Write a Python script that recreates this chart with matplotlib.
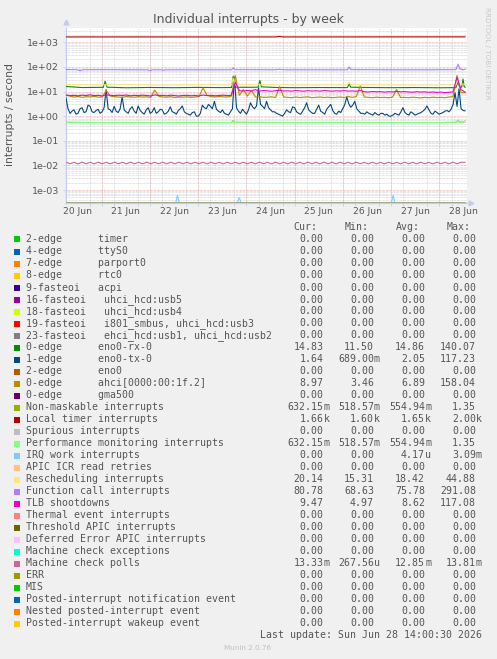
import numpy as np
import matplotlib
matplotlib.use('Agg')
import matplotlib.pyplot as plt
from matplotlib.ticker import LogLocator, FuncFormatter, NullFormatter, MultipleLocator

W, H = 497, 659

# Leyenda (orden de munin)
labels = [
    '2-edge      timer', '4-edge      ttyS0', '7-edge      parport0', '8-edge      rtc0',
    '9-fasteoi   acpi', '16-fasteoi   uhci_hcd:usb5', '18-fasteoi   uhci_hcd:usb4',
    '19-fasteoi   i801_smbus, uhci_hcd:usb3', '23-fasteoi   ehci_hcd:usb1, uhci_hcd:usb2',
    '0-edge      eno0-rx-0', '1-edge      eno0-tx-0', '2-edge      eno0',
    '0-edge      ahci[0000:00:1f.2]', '0-edge      gma500', 'Non-maskable interrupts',
    'Local timer interrupts', 'Spurious interrupts', 'Performance monitoring interrupts',
    'IRQ work interrupts', 'APIC ICR read retries', 'Rescheduling interrupts',
    'Function call interrupts', 'TLB shootdowns', 'Thermal event interrupts',
    'Threshold APIC interrupts', 'Deferred Error APIC interrupts', 'Machine check exceptions',
    'Machine check polls', 'ERR', 'MIS', 'Posted-interrupt notification event',
    'Nested posted-interrupt event', 'Posted-interrupt wakeup event',
]
colors = [
    '#00CC00', '#0066B3', '#FF8000', '#FFCC00', '#330099', '#990099', '#CCFF00', '#FF0000',
    '#808080', '#008F00', '#00487D', '#B35A00', '#B38F00', '#6B006B', '#8FB300', '#B30000',
    '#BEBEBE', '#80FF80', '#80C9FF', '#FFC080', '#FFE680', '#AA80FF', '#EE00CC', '#FF8080',
    '#666600', '#FFBFFF', '#00FFCC', '#CC6699', '#999900', '#00CC00', '#0066B3', '#FF8000',
    '#FFCC00',
]
z = '0.00'
cur_vals = [z]*9 + ['14.83', '1.64', z, '8.97', z, '632.15m', '1.66k', z, '632.15m', z, z,
                    '20.14', '80.78', '9.47', z, z, z, z, '13.33m', z, z, z, z, z]
min_vals = [z]*9 + ['11.50', '689.00m', z, '3.46', z, '518.57m', '1.60k', z, '518.57m', z, z,
                    '15.31', '68.63', '4.97', z, z, z, z, '267.56u', z, z, z, z, z]
avg_vals = [z]*9 + ['14.86', '2.05', z, '6.89', z, '554.94m', '1.65k', z, '554.94m', '4.17u', z,
                    '18.42', '75.78', '8.62', z, z, z, z, '12.85m', z, z, z, z, z]
max_vals = [z]*9 + ['140.07', '117.23', z, '158.04', z, '1.35', '2.00k', z, '1.35', '3.09m', z,
                    '44.88', '291.08', '117.08', z, z, z, z, '13.81m', z, z, z, z, z]

# Tiempo en dias desde 20 Jun 00:00
T0, T1 = 0.26, 8.53
days = ['20 Jun', '21 Jun', '22 Jun', '23 Jun', '24 Jun', '25 Jun', '26 Jun', '27 Jun', '28 Jun']

# eno0-tx-0 (rejilla de 1 hora)
tx_v = [5.5, 2.0, 1.3, 1.6, 1.8, 1.2, 1.3, 2.0, 2.2, 1.4,
        1.5, 2.8, 2.5, 1.5, 1.4, 1.7, 1.9, 1.3, 1.5, 2.2,
        12.0, 2.0, 1.8, 1.4, 2.5, 1.6, 1.4, 2.0, 6.0, 1.8,
        1.5, 1.3, 2.0, 2.4, 1.6, 1.3, 2.6, 1.7, 1.4, 1.2,
        1.8, 2.2, 1.3, 1.5, 2.2, 1.3, 1.5, 1.9, 1.8, 1.2,
        1.3, 1.6, 2.4, 1.5, 1.4, 1.2, 1.7, 2.0, 2.6, 1.5,
        1.3, 1.2, 1.1, 1.4, 1.5, 1.0, 1.0, 1.3, 2.8, 2.2,
        2.0, 3.0, 2.5, 2.0, 4.0, 1.9, 1.6, 1.4, 1.8, 1.3,
        1.2, 1.1, 1.5, 2.0, 38.0, 2.2, 1.6, 1.3, 1.9, 1.5,
        1.2, 1.8, 3.5, 2.4, 2.0, 2.6, 14.0, 3.0, 2.5, 2.0,
        4.0, 2.2, 1.8, 1.5, 1.5, 1.3, 1.2, 1.1, 1.0, 1.3,
        1.8, 1.5, 1.4, 2.4, 2.2, 1.5, 1.3, 1.2, 1.6, 2.2,
        3.5, 1.8, 1.5, 1.3, 1.3, 1.9, 2.8, 1.6, 1.4, 1.2,
        1.9, 2.4, 3.0, 1.7, 1.3, 1.2, 1.6, 1.4, 2.0, 2.9,
        6.0, 3.2, 2.3, 2.8, 4.0, 2.0, 1.6, 1.3, 1.3, 1.2,
        1.5, 1.3, 1.2, 1.1, 1.4, 1.2, 1.1, 1.3, 1.3, 1.1,
        1.2, 1.0, 1.0, 1.1, 1.3, 1.2, 1.1, 1.5, 2.2, 1.4,
        1.2, 1.1, 1.5, 1.3, 1.1, 1.2, 1.3, 1.4, 1.6, 1.9,
        2.6, 1.8, 1.3, 1.2, 1.6, 1.4, 1.2, 1.3, 1.4, 1.6,
        1.7, 1.5, 1.9, 3.0, 9.0, 2.5, 13.0, 2.0, 1.7, 1.64]
tx_t = np.linspace(T0, T1, len(tx_v))

# Resto de series (rejilla de 2 horas)
ahci_v = [7.0, 6.5, 6.0, 6.3, 5.8, 6.2, 6.0, 6.4, 5.9, 6.1,
          11.0, 6.5, 6.2, 6.0, 5.8, 6.3, 6.0, 5.9, 6.2, 6.0,
          6.1, 5.8, 11.5, 6.4, 6.0, 5.9, 6.2, 5.7, 6.0, 5.9,
          6.1, 5.8, 6.0, 6.3, 14.0, 7.0, 6.2, 6.0, 6.3, 6.1,
          6.0, 6.4, 45.0, 7.0, 12.0, 6.5, 11.0, 6.0, 6.2, 5.8,
          5.9, 6.1, 5.7, 16.0, 6.0, 5.8, 5.6, 6.0, 5.7, 5.9,
          6.1, 5.6, 5.8, 6.0, 5.7, 5.9, 5.6, 5.8, 6.0, 5.7,
          6.3, 5.8, 6.2, 17.0, 6.0, 5.8, 5.6, 5.9, 5.7, 5.8,
          5.6, 5.9, 12.0, 5.7, 5.8, 5.6, 5.9, 5.7, 5.5, 5.8,
          5.6, 5.9, 5.7, 5.8, 5.6, 6.0, 6.2, 45.0, 9.0, 9.0]
tlb_v = [7.2, 6.8, 7.0, 6.7, 7.1, 6.9, 7.3, 6.8, 7.0, 6.6,
         7.4, 7.0, 6.8, 7.1, 6.9, 7.2, 6.7, 7.0, 6.8, 7.1,
         6.9, 6.6, 7.3, 6.9, 7.0, 6.7, 7.1, 6.8, 6.6, 6.9,
         7.0, 6.7, 6.9, 6.6, 7.2, 6.8, 7.0, 6.7, 6.9, 7.1,
         6.8, 7.0, 24.0, 10.8, 10.5, 11.0, 10.6, 12.0, 10.4, 10.9,
         10.6, 10.3, 10.8, 11.2, 10.5, 10.7, 10.4, 10.9, 10.6, 10.3,
         10.8, 10.5, 10.7, 10.4, 10.9, 10.6, 10.3, 10.7, 10.5, 10.8,
         10.4, 10.6, 10.2, 11.0, 9.8, 9.6, 10.0, 9.7, 9.9, 9.5,
         9.8, 9.6, 10.2, 9.7, 9.9, 9.6, 9.4, 9.8, 9.5, 9.7,
         9.3, 9.6, 9.2, 9.5, 9.0, 9.4, 9.6, 38.0, 12.0, 9.5]
mcp_v = [0.0135, 0.0116, 0.0134, 0.0115, 0.0135, 0.0116, 0.0134, 0.0115, 0.0135, 0.0116,
         0.0134, 0.0115, 0.0135, 0.0116, 0.0134, 0.0115, 0.0135, 0.0116, 0.0134, 0.0115,
         0.0135, 0.0116, 0.0134, 0.0115, 0.0135, 0.0116, 0.0134, 0.0115, 0.0135, 0.0116,
         0.0134, 0.0115, 0.0135, 0.0116, 0.0134, 0.0115, 0.0135, 0.0116, 0.0134, 0.0115,
         0.0135, 0.0116, 0.0134, 0.0115, 0.0135, 0.0116, 0.0134, 0.0115, 0.0135, 0.0116,
         0.0134, 0.0115, 0.0135, 0.0116, 0.0134, 0.0115, 0.0135, 0.0116, 0.0134, 0.0115,
         0.0135, 0.0116, 0.0134, 0.0115, 0.0135, 0.0116, 0.0134, 0.0115, 0.0135, 0.0116,
         0.0134, 0.0115, 0.0135, 0.0116, 0.0134, 0.0115, 0.0135, 0.0116, 0.0134, 0.0115,
         0.0135, 0.0116, 0.0134, 0.0115, 0.0135, 0.0116, 0.0134, 0.0115, 0.0135, 0.0116,
         0.0134, 0.0115, 0.0135, 0.0116, 0.0134, 0.0115, 0.0135, 0.0116, 0.0134, 0.0133]
grid_t = np.linspace(T0, T1, len(ahci_v))

# Series casi constantes (puntos sueltos)
rx_t = [0.26, 0.6, 1.0, 1.03, 1.07, 1.11, 1.5, 2.0, 2.5, 3.0, 3.5, 3.69, 3.725, 3.76, 4.0,
        4.24, 4.277, 4.31, 4.6, 5.0, 5.5, 6.09, 6.127, 6.16, 6.5, 7.0, 7.5, 8.0, 8.34, 8.383,
        8.42, 8.46, 8.487, 8.51, 8.53]
rx_v = [16, 14.5, 14.8, 14.5, 26, 15, 14.2, 14.6, 14.3, 14.7, 14.4, 14.6, 42, 15, 14.8,
        15, 28, 15.5, 14.6, 14.3, 14.5, 14.4, 20, 15, 14.6, 14.3, 14.5, 14.2, 14.4, 25,
        15, 15, 32, 16, 14.8]
res_t = [0.26, 0.8, 1.5, 2.2, 3.0, 3.69, 3.725, 3.76, 4.5, 5.3, 6.09, 6.127, 6.16, 7.0, 7.8,
         8.34, 8.383, 8.42, 8.53]
res_v = [19.5, 18.5, 18.8, 18.3, 18.6, 18.5, 35, 19, 18.7, 18.4, 18.6, 26, 19, 18.5, 18.3,
         18.6, 30, 20, 20.1]
fc_t = [0.26, 0.5, 0.55, 0.6, 1.0, 1.5, 1.95, 2.0, 2.05, 2.25, 2.275, 2.3, 3.0, 3.69, 3.725,
        3.76, 4.6, 4.68, 4.76, 5.5, 6.09, 6.127, 6.16, 7.0, 7.8, 8.34, 8.383, 8.42, 8.487, 8.53]
fc_v = [78, 76, 70, 76, 77, 76, 76, 70, 76, 76, 71, 76, 76, 76, 92,
        77, 76, 80, 76, 76, 76, 98, 77, 76, 76, 77, 130, 85, 76, 80]
pf_t = [0.26, 1.0, 2.0, 3.0, 3.69, 3.725, 3.76, 5.0, 6.0, 7.0, 8.0, 8.34, 8.383, 8.42, 8.487, 8.53]
pf_v = [0.56, 0.55, 0.55, 0.555, 0.55, 0.66, 0.56, 0.55, 0.555, 0.55, 0.55, 0.56, 0.68, 0.58,
        0.56, 0.63]
lt_t = [0.26, 4.6, 4.68, 4.76, 8.53]
lt_v = [1650, 1650, 1720, 1650, 1660]
irq_t = [0.26, 2.53, 2.57, 2.61, 3.81, 3.85, 3.89, 7.00, 7.04, 7.08, 8.53]
irq_v = [0, 0, 6e-4, 0, 0, 5e-4, 0, 0, 6e-4, 0, 0]

series = {
    9: (rx_t, rx_v), 10: (tx_t, tx_v), 12: (grid_t, ahci_v), 14: (pf_t, pf_v),
    15: (lt_t, lt_v), 17: (pf_t, pf_v), 18: (irq_t, irq_v), 20: (res_t, res_v),
    21: (fc_t, fc_v), 22: (grid_t, tlb_v), 27: (grid_t, mcp_v),
}

YMIN, YMAX = 10 ** -3.54, 10 ** 3.58
TXT = '#555555'
AXC = '#c4cbf2'

fig = plt.figure(figsize=(W / 100, H / 100), dpi=100)
fig.patch.set_facecolor('#f0f0f0')

# Area del grafico en pixeles
x0, x1, y0, y1 = 66, 467, 28, 203.3
ax = fig.add_axes([x0 / W, 1 - y1 / H, (x1 - x0) / W, (y1 - y0) / H])
ax.set_facecolor('white')
ax.set_yscale('log')
ax.set_xlim(T0, 8.57)
ax.set_ylim(YMIN, YMAX)

for i in range(len(labels)):
    t, v = series.get(i, ([T0, T1], [0, 0]))
    ax.plot(t, np.clip(np.asarray(v, dtype=float), YMIN, None), color=colors[i], lw=0.8, zorder=3)

# Rejilla
ax.yaxis.set_major_locator(LogLocator(base=10, numticks=20))
ax.yaxis.set_minor_locator(LogLocator(base=10, subs=np.arange(2, 10), numticks=20))
ax.yaxis.set_major_formatter(FuncFormatter(lambda v, p: f'{v:.0e}'))
ax.yaxis.set_minor_formatter(NullFormatter())
ax.grid(which='major', axis='y', color='#e8a0a0', lw=0.5, ls=(0, (1, 1)))
ax.grid(which='minor', axis='y', color='#c8c8c8', lw=0.5, ls=(0, (1, 1)))

ax.set_xticks(np.arange(len(days)) + 0.5, days)
ax.xaxis.set_minor_locator(MultipleLocator(0.25))
ax.grid(which='minor', axis='x', color='#c8c8c8', lw=0.5, ls=(0, (1, 1)))
for d in np.arange(1, len(days)):
    ax.axvline(d, color='#eab0b0', lw=0.5, ls=(0, (1, 1)), zorder=1)
ax.set_axisbelow(True)

ax.tick_params(axis='both', which='both', colors=AXC, labelcolor=TXT, width=0.6)
ax.tick_params(axis='y', which='major', length=2, labelsize=6.8, pad=3)
ax.tick_params(axis='y', which='minor', length=1)
ax.tick_params(axis='x', which='major', length=0, labelsize=6.6, pad=3)
ax.tick_params(axis='x', which='minor', length=2)
for s in ['top', 'right']:
    ax.spines[s].set_visible(False)
for s in ['left', 'bottom']:
    ax.spines[s].set_color(AXC)
    ax.spines[s].set_linewidth(0.8)
ax.plot([0], [1.035], marker='^', ms=3.5, color=AXC, transform=ax.transAxes, clip_on=False)
ax.plot([1.01], [0], marker='>', ms=3.5, color=AXC, transform=ax.transAxes, clip_on=False)


def ftext(x, y, s, **kw):
    return fig.text(x / W, 1 - y / H, s, **kw)


ftext(248, 19, 'Individual interrupts - by week', ha='center', va='center', fontsize=9, color=TXT)
ftext(10, 115, 'interrupts / second', rotation=90, ha='center', va='center', fontsize=7.8, color=TXT)
ftext(487, 53, 'RRDTOOL / TOBI OETIKER', rotation=270, ha='center', va='center',
      fontsize=5.2, color='#c8c8c8')

# Tabla de leyenda
mono = dict(family='DejaVu Sans Mono', fontsize=7.1, color=TXT, va='center')
col_end = [323.5, 374, 425, 476]
for hx, h in zip([293.3, 345, 396, 446.7], ['Cur:', 'Min:', 'Avg:', 'Max:']):
    ftext(hx, 227.5, h, ha='left', **mono)

for i, lab in enumerate(labels):
    y = 239.5 + 12 * i
    fig.patches.append(plt.Rectangle((14 / W, 1 - (y + 3) / H), 6 / W, 6 / H,
                                     transform=fig.transFigure, facecolor=colors[i],
                                     edgecolor='none'))
    ftext(26, y, lab, ha='left', **mono)
    for ce, vals in zip(col_end, [cur_vals, min_vals, avg_vals, max_vals]):
        s = vals[i]
        if s[-1].isalpha():
            ftext(ce, y, s[:-1], ha='right', **mono)
            ftext(ce, y, s[-1], ha='left', **mono)
        else:
            ftext(ce, y, s, ha='right', **mono)

ftext(482, 635, 'Last update: Sun Jun 28 14:00:30 2026', ha='right', **mono)
ftext(248, 648, 'Munin 2.0.76', ha='center', va='center', fontsize=5.2, color='#c0c0c0')

fig.savefig('out.png', dpi=100, facecolor=fig.get_facecolor())
